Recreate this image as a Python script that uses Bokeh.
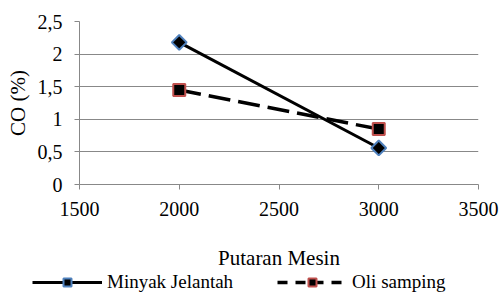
import math
from bokeh.plotting import figure
from bokeh.models import Legend, LegendItem, FixedTicker
from bokeh.embed import file_html
from bokeh.resources import INLINE

# Data
rpm = [2000, 3000]
minyak_jelantah = [2.18, 0.56]
oli_samping = [1.45, 0.85]
x_ticks = [1500, 2000, 2500, 3000, 3500]
y_ticks = [0, 0.5, 1, 1.5, 2, 2.5]
y_tick_labels = ["0", "0,5", "1", "1,5", "2", "2,5"]
series_names = ["Minyak Jelantah", "Oli samping"]
x_title = "Putaran Mesin"
y_title = "CO (%)"

FONT = "Liberation Serif"
GRAY = "#888888"
BLUE = "#4F81BD"
RED = "#C0504D"

p = figure(width=501, height=272, x_range=(1500, 3500), y_range=(0, 2.5),
           output_backend="svg", toolbar_location=None,
           min_border_left=79, min_border_right=23, min_border_top=21,
           min_border_bottom=88)
p.outline_line_color = None
p.background_fill_color = "white"
p.border_fill_color = "white"
p.xgrid.visible = False
p.ygrid.ticker = FixedTicker(ticks=y_ticks)
p.ygrid.grid_line_color = GRAY
p.ygrid.grid_line_width = 1

p.xaxis.ticker = FixedTicker(ticks=x_ticks)
p.yaxis.ticker = FixedTicker(ticks=y_ticks)
p.yaxis.major_label_overrides = {float(t): l for t, l in zip(y_ticks, y_tick_labels)}

for ax in (p.xaxis, p.yaxis):
    ax.axis_line_color = GRAY
    ax.axis_line_width = 1
    ax.major_tick_line_color = GRAY
    ax.major_tick_in = 0
    ax.major_tick_out = 5
    ax.minor_tick_line_color = None
    ax.major_label_text_font = FONT
    ax.major_label_text_font_size = "20px"
    ax.major_label_text_color = "black"
    ax.axis_label_text_font = FONT
    ax.axis_label_text_font_size = "21px"
    ax.axis_label_text_font_style = "normal"
    ax.axis_label_text_color = "black"

p.xaxis.axis_label = x_title
p.yaxis.axis_label = y_title
p.xaxis.major_label_standoff = 12
p.yaxis.major_label_standoff = 12
p.xaxis.axis_label_standoff = 27
p.yaxis.axis_label_standoff = 5

p.line(rpm, minyak_jelantah, line_color="black", line_width=3)
p.line(rpm, oli_samping, line_color="black", line_width=3.5, line_dash="22 8")
p.scatter(rpm, minyak_jelantah, marker="square", angle=math.pi / 4, size=10.5,
          fill_color="black", line_color=BLUE, line_width=2)
p.scatter(rpm, oli_samping, marker="square", size=12,
          fill_color="black", line_color=RED, line_width=2)

# Legend strip (own small figure so the legend is not clipped by the plot frame)
q = figure(width=501, height=22, x_range=(0, 1), y_range=(0, 1),
           output_backend="svg", toolbar_location=None,
           x_axis_type=None, y_axis_type=None, min_border=0)
q.outline_line_color = None
q.grid.visible = False
q.border_fill_color = "white"
q.background_fill_color = "white"
# same series, drawn outside this strip's ranges: only their legend glyphs show
k1 = q.line(rpm, minyak_jelantah, line_color="black", line_width=3)
k2 = q.line(rpm, oli_samping, line_color="black", line_width=3.5, line_dash="10 8")
m1 = q.scatter(rpm, minyak_jelantah, marker="square", angle=math.pi / 4, size=10.5,
               fill_color="black", line_color=BLUE, line_width=2)
m2 = q.scatter(rpm, oli_samping, marker="square", size=12,
               fill_color="black", line_color=RED, line_width=2)

legend = Legend(items=[LegendItem(label=series_names[0], renderers=[k1, m1]),
                       LegendItem(label=series_names[1], renderers=[k2, m2])],
                orientation="horizontal", location=(32, 1),
                glyph_width=70, glyph_height=20, label_height=20,
                label_standoff=5, spacing=44,
                padding=0, margin=0, border_line_color=None,
                background_fill_alpha=0,
                label_text_font=FONT, label_text_font_size="19px",
                label_text_color="black")
q.add_layout(legend, "center")

open("out.html", "w").write(file_html([p, q], INLINE))
